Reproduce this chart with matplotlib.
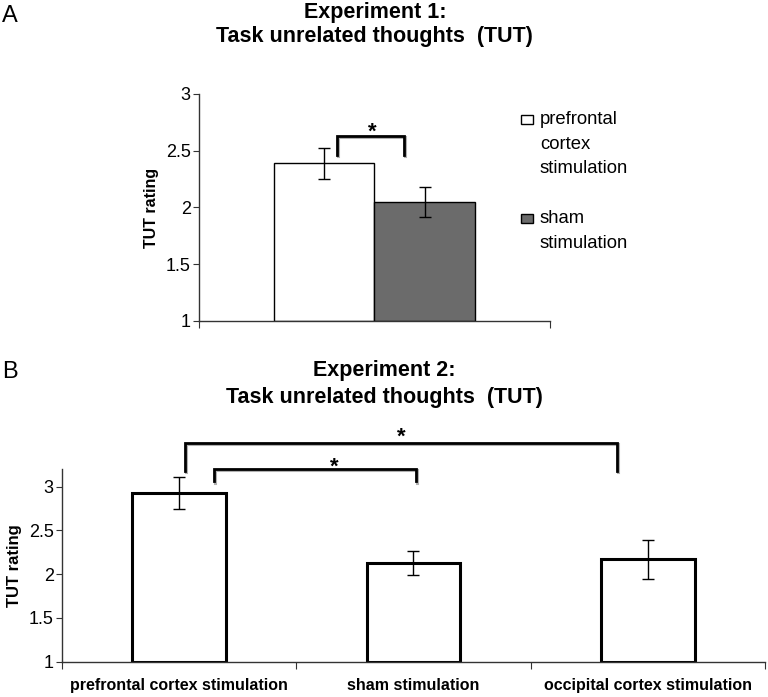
import numpy as np
import matplotlib.pyplot as plt
from matplotlib.patches import Rectangle
from matplotlib.transforms import ScaledTranslation

plt.rcParams['font.family'] = ['Liberation Sans', 'DejaVu Sans']

# Experiment 1 data
exp1_labels = ["prefrontal\ncortex\nstimulation", "sham\nstimulation"]
exp1_means = [2.39, 2.05]
exp1_errs = [0.135, 0.13]
exp1_colors = ["white", "#6b6b6b"]

# Experiment 2 data
exp2_labels = ["prefrontal cortex stimulation", "sham stimulation", "occipital cortex stimulation"]
exp2_means = [2.93, 2.13, 2.17]
exp2_errs = [0.18, 0.14, 0.225]

yticks = [1, 1.5, 2, 2.5, 3]
yticklabels = ["1", "1.5", "2", "2.5", "3"]


def bracket(ax, x0, x1, y, tip0, tip1, star_x, star_y):
    # grey shadow then black bracket, like the original figure
    shadow = ax.transData + ScaledTranslation(1.2 / 100, -1.2 / 100, ax.figure.dpi_scale_trans)
    ax.plot([x0, x0, x1, x1], [tip0, y, y, tip1], color="#b0b0b0", lw=2.2,
            clip_on=False, transform=shadow, solid_joinstyle="miter", zorder=4)
    ax.plot([x0, x0, x1, x1], [tip0, y, y, tip1], color="black", lw=2.0,
            clip_on=False, solid_joinstyle="miter", zorder=5)
    ax.text(star_x, star_y, "*", ha="center", va="center", fontsize=16,
            fontweight="bold", clip_on=False)


def style_axes(ax):
    for s in ["top", "right"]:
        ax.spines[s].set_visible(False)
    for s in ["left", "bottom"]:
        ax.spines[s].set_color("#333333")
        ax.spines[s].set_linewidth(1.0)
    ax.set_yticks(yticks)
    ax.set_yticklabels(yticklabels, fontsize=13)
    ax.tick_params(axis="y", length=4, width=0.8, pad=2, color="#333333")
    ax.tick_params(axis="x", which="major", direction="out", length=5, width=0.8,
                   color="#333333", labelbottom=False)
    ax.tick_params(axis="x", which="minor", length=0)


fig = plt.figure(figsize=(7.68, 6.97), dpi=100)

# ---------------- Panel A ----------------
axA = fig.add_axes([0.2591, 0.5395, 0.4570, 0.3257])
w = 0.286
offsets = [-w / 2, w / 2]
for i in range(len(exp1_means)):
    axA.bar(offsets[i], exp1_means[i] - 1, bottom=1, width=w, color=exp1_colors[i],
            edgecolor="black", linewidth=1.0, zorder=2)
    axA.errorbar(offsets[i], exp1_means[i], yerr=exp1_errs[i], color="black",
                 capsize=4, elinewidth=1.0, capthick=1.0, zorder=3)
axA.set_xlim(-0.5, 0.5)
axA.set_ylim(1, 3)
axA.set_xticks([-0.5, 0.5])
style_axes(axA)
axA.set_ylabel("TUT rating", fontsize=11.5, fontweight="bold", labelpad=5)
bracket(axA, -0.107, 0.084, 2.63, 2.46, 2.46, -0.007, 2.665)

# manual legend (handle aligned with first line of text)
leg_y = [0.828, 0.686]
for lab, col, ly in zip(exp1_labels, exp1_colors, leg_y):
    fig.patches.append(Rectangle((0.679, ly - 0.006), 0.0155, 0.0125, transform=fig.transFigure,
                                 facecolor=col, edgecolor="black", linewidth=1.0))
    fig.text(0.703, ly + 0.013, lab, ha="left", va="top", fontsize=13.3, linespacing=1.6)

fig.text(0.488, 0.982, "Experiment 1:", ha="center", va="center", fontsize=15.5, fontweight="bold")
fig.text(0.488, 0.947, "Task unrelated thoughts  (TUT)", ha="center", va="center", fontsize=15.5,
         fontweight="bold")
fig.text(0.003, 0.977, "A", ha="left", va="center", fontsize=17)

# ---------------- Panel B ----------------
axB = fig.add_axes([0.0807, 0.0506, 0.9154, 0.2762])
xb = np.arange(len(exp2_means))
axB.bar(xb, np.array(exp2_means) - 1, bottom=1, width=0.4, color="white",
        edgecolor="black", linewidth=2.2, zorder=2)
axB.errorbar(xb, exp2_means, yerr=exp2_errs, fmt="none", ecolor="black",
             capsize=4, elinewidth=1.0, capthick=1.0, zorder=3)
axB.set_xlim(-0.5, len(exp2_means) - 0.5)
axB.set_ylim(1, 3.2)
axB.set_xticks(np.arange(len(exp2_means) + 1) - 0.5)
axB.set_xticks(xb, minor=True)
style_axes(axB)
axB.set_xticklabels(exp2_labels, minor=True, fontsize=11.5, fontweight="bold")
axB.tick_params(axis="x", which="minor", labelbottom=True, pad=12)
axB.set_ylabel("TUT rating", fontsize=12, fontweight="bold", labelpad=5)
bracket(axB, 0.0245, 1.867, 3.50, 3.18, 3.18, 0.95, 3.56)
bracket(axB, 0.148, 1.01, 3.20, 3.06, 3.06, 0.664, 3.225)

fig.text(0.5, 0.469, "Experiment 2:", ha="center", va="center", fontsize=15.5, fontweight="bold")
fig.text(0.5, 0.430, "Task unrelated thoughts  (TUT)", ha="center", va="center", fontsize=15.5,
         fontweight="bold")
fig.text(0.003, 0.466, "B", ha="left", va="center", fontsize=17)

fig.savefig("out.png", dpi=100)
